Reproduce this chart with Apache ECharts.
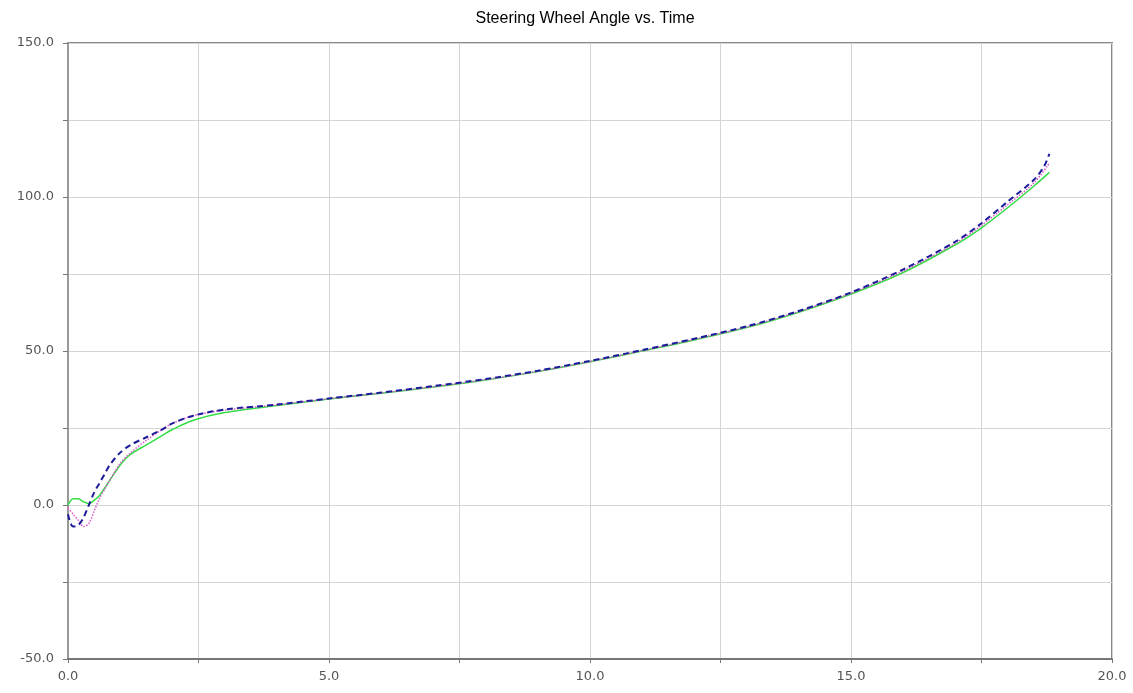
<!DOCTYPE html>
<html>
<head>
<meta charset="utf-8">
<script src="https://cdn.jsdelivr.net/npm/echarts@6/dist/echarts.min.js"></script>
<style>html,body{margin:0;padding:0;background:#fff;}#c{width:1133px;height:693px;}</style>
</head>
<body>
<div id="c"></div>
<script>
const titleText = 'Steering Wheel Angle vs. Time';
const xTicks = [0, 5, 10, 15, 20];
const yTicks = [-50, 0, 50, 100, 150];

const tGreen = [0,0.1,0.2,0.3,0.4,0.5,0.6,0.8,1.0,1.2,1.5,1.8,2.0,2.4,3.0,4.0,5.0,6.0,7.0,8.0,9.0,10.0,11.0,12.0,13.0,14.0,15.0,16.0,17.0,17.5,18.0,18.5,18.8];
const vGreen = [0,2,2,1,0.5,1.5,3,8,13,16.5,19.5,22.5,24.5,27.5,30,32.3,34.4,36.3,38.3,40.6,43.3,46.5,50,53.6,57.6,62.6,68.5,75.5,84.5,90,96.5,103.5,108];

const tBlue = [0,0.05,0.1,0.2,0.3,0.4,0.5,0.6,0.7,0.8,1.0,1.2,1.5,1.8,2.0,2.4,3.0,4.0,5.0,6.0,7.0,8.0,9.0,10.0,11.0,12.0,13.0,14.0,15.0,16.0,17.0,17.5,18.0,18.5,18.7,18.8];
const vBlue = [-3,-6,-7,-6.5,-4,0,4,7,10,13,17,19.5,22,24.5,26.5,29,31,32.6,34.6,36.5,38.6,40.9,43.6,46.8,50.3,54,58,63,69,76.5,85.5,91.5,98.5,105.5,110,114];

const tMagenta = [0,0.1,0.2,0.3,0.4,0.5,0.6,0.8,1.0,1.2,1.5,1.8,2.0,2.4,3.0,4.0,5.0,6.0,7.0,8.0,9.0,10.0,11.0,12.0,13.0,14.0,15.0,16.0,17.0,17.5,18.0,18.5,18.8];
const vMagenta = [-1,-3,-5,-7,-6,-2,2,8,13.5,17,21,24.5,26.5,29,30.8,32.5,34.5,36.4,38.4,40.7,43.4,46.6,50.1,53.8,57.8,62.8,68.8,76,85,90.8,97.5,104.5,111];

function pairs(t, v) { return t.map((x, i) => [x, v[i]]); }

const labelStyle = { color: '#555', fontFamily: 'DejaVu Sans, sans-serif', fontSize: 13 };

const chart = echarts.init(document.getElementById('c'), null, { renderer: 'canvas' });
chart.setOption({
  animation: false,
  backgroundColor: '#fff',
  title: {
    text: titleText, left: 580, top: 6, textAlign: 'center',
    textStyle: { fontFamily: 'Liberation Sans, Arial, sans-serif', fontSize: 16, fontWeight: 'normal', color: '#000' }
  },
  grid: { left: 68, right: 21, top: 43, bottom: 34, show: true, borderColor: '#888', borderWidth: 2 },
  xAxis: {
    type: 'value', min: 0, max: 20, interval: 2.5,
    axisLine: { show: true, onZero: false, lineStyle: { color: '#777', width: 2 } },
    axisTick: { show: true, length: 4, inside: false, lineStyle: { color: '#777' } },
    splitLine: { show: true, lineStyle: { color: '#d4d4d4', width: 1 } },
    axisLabel: Object.assign({ margin: 11, formatter: v => xTicks.includes(v) ? v.toFixed(1) : '' }, labelStyle)
  },
  yAxis: {
    type: 'value', min: -50, max: 150, interval: 25,
    axisLine: { show: true, onZero: false, lineStyle: { color: '#999', width: 2 } },
    axisTick: { show: true, length: 5, lineStyle: { color: '#777' } },
    splitLine: { show: true, lineStyle: { color: '#d4d4d4', width: 1 } },
    axisLabel: Object.assign({ margin: 14, formatter: v => yTicks.includes(v) ? v.toFixed(1) : '' }, labelStyle)
  },
  series: [
    { name: 'green', type: 'line', data: pairs(tGreen, vGreen), showSymbol: false, smooth: 0.3,
      lineStyle: { color: '#33dd44', width: 1.5, type: 'solid' } },
    { name: 'magenta', type: 'line', data: pairs(tMagenta, vMagenta), showSymbol: false, smooth: 0.3,
      lineStyle: { color: '#dd55cc', width: 1.5, type: 'dotted' } },
    { name: 'blue', type: 'line', data: pairs(tBlue, vBlue), showSymbol: false, smooth: 0.3,
      lineStyle: { color: '#1c1c9a', width: 2, type: [6, 4] } }
  ]
});
</script>
</body>
</html>
